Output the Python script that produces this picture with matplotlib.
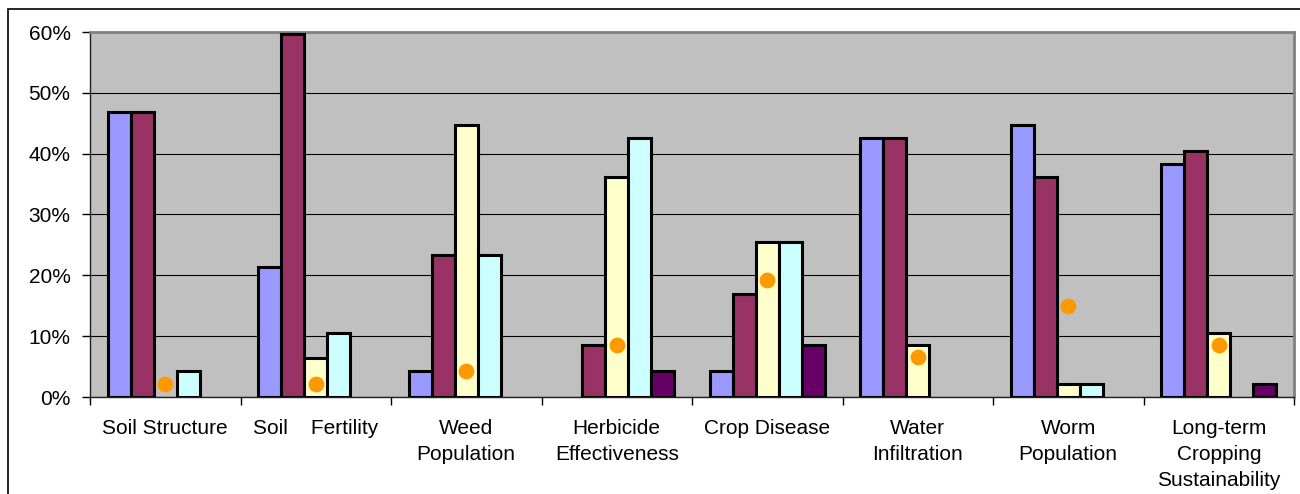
import numpy as np
import matplotlib
matplotlib.use("Agg")
import matplotlib.pyplot as plt
from matplotlib.patches import Rectangle
from matplotlib.ticker import PercentFormatter

plt.rcParams['font.family'] = ['Liberation Sans', 'DejaVu Sans']

categories = ["Soil Structure", "Soil    Fertility", "Weed\nPopulation",
              "Herbicide\nEffectiveness", "Crop Disease", "Water\nInfiltration",
              "Worm\nPopulation", "Long-term\nCropping\nSustainability"]

# share of responses per rating (percent)
series_a = [46.8, 21.3, 4.26, 0.0, 4.26, 42.6, 44.7, 38.3]
series_b = [46.8, 59.6, 23.4, 8.5, 17.0, 42.6, 36.2, 40.4]
series_c = [0.0, 6.4, 44.7, 36.2, 25.5, 8.5, 2.1, 10.6]
series_d = [4.26, 10.6, 23.4, 42.6, 25.5, 0.0, 2.1, 0.0]
series_e = [0.0, 0.0, 0.0, 4.26, 8.5, 0.0, 0.0, 2.1]
average = [2.1, 2.1, 4.3, 8.5, 19.2, 6.5, 15.0, 8.5]

series = [series_a, series_b, series_c, series_d, series_e]
colors = ["#9999FF", "#993366", "#FFFFCC", "#CCFFFF", "#660066"]

fig = plt.figure(figsize=(13, 4.94), dpi=100)
ax = fig.add_axes([90 / 1300, 97 / 494, 1204 / 1300, 365 / 494])
ax.set_facecolor("#C0C0C0")

x = np.arange(len(categories))
width = 0.153
for i, (vals, col) in enumerate(zip(series, colors)):
    vals = np.array(vals)
    keep = vals > 0
    ax.bar(x[keep] + (i - 2) * width, vals[keep], width, color=col,
           edgecolor="black", linewidth=2.2, zorder=3)

ax.scatter(x, average, s=130, color="#FF9900", zorder=4, linewidths=0)

ax.set_xlim(-0.5, len(categories) - 0.5)
ax.set_ylim(0, 60)
ax.set_yticks(np.arange(0, 61, 10))
ax.yaxis.set_major_formatter(PercentFormatter(decimals=0))
ax.grid(axis="y", color="black", linewidth=0.8, zorder=1)
ax.tick_params(axis="y", direction="out", length=6, width=1, pad=8, labelsize=15)

ax.set_xticks(np.arange(-0.5, len(categories)), labels=[])
ax.set_xticks(x, labels=categories, minor=True)
ax.tick_params(axis="x", which="major", direction="out", length=6, width=1)
ax.tick_params(axis="x", which="minor", length=0, pad=16, labelsize=15)
for lab in ax.get_xticklabels(minor=True):
    lab.set_linespacing(1.47)

for side in ("top", "right"):
    ax.spines[side].set_color("#808080")
    ax.spines[side].set_linewidth(2)
for side in ("left", "bottom"):
    ax.spines[side].set_color("#202020")
    ax.spines[side].set_linewidth(1)

# outer chart frame
fig.patches.append(Rectangle((8 / 1300, -0.1), 1.2, 1 - 9 / 494 + 0.1,
                             transform=fig.transFigure, fill=False,
                             edgecolor="black", linewidth=1.2))

fig.savefig("out.png", dpi=100)
